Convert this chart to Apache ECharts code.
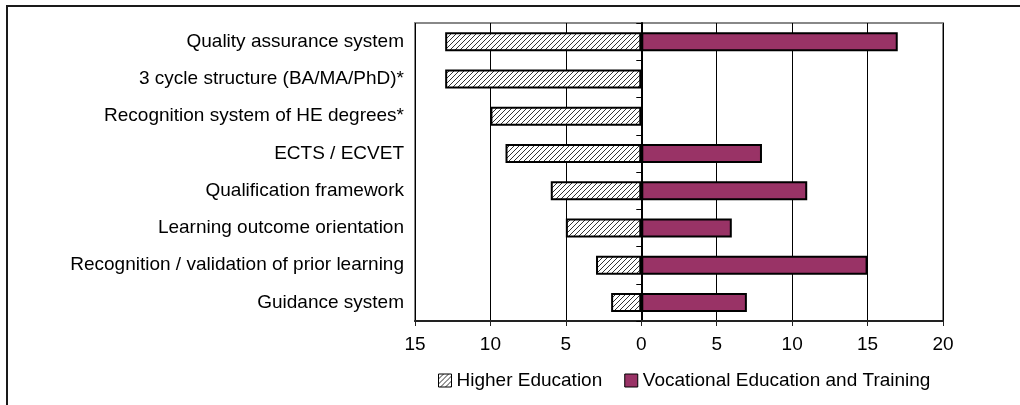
<!doctype html>
<html lang="en">
<head>
	<meta charset="UTF-8">
	<title>HE vs VET</title>
	<style>
		html, body { margin: 0; padding: 0; background: #fff; }
		#main { width: 1020px; height: 405px; }
	</style>
</head>
<body>
<div id="main"></div>
<script src="https://cdn.jsdelivr.net/npm/echarts@6/dist/echarts.min.js"></script>
<script type="text/javascript">
	// categories, top to bottom as in the picture
	var categories = [
		'Quality assurance system',
		'3 cycle structure (BA/MA/PhD)*',
		'Recognition system of HE degrees*',
		'ECTS / ECVET',
		'Qualification framework',
		'Learning outcome orientation',
		'Recognition / validation of prior learning',
		'Guidance system'
	];
	var higherEdu = [13, 13, 10, 9, 6, 5, 3, 2];
	var vet = [17, 0, 0, 8, 11, 6, 15, 7];
	var xTicks = [-15, -10, -5, 0, 5, 10, 15, 20];

	// category axis runs bottom-up, so reverse
	var cats = categories.slice().reverse();
	var heVals = higherEdu.slice().reverse().map(function (v) { return -v; });
	var vetVals = vet.slice().reverse().map(function (v) { return v === 0 ? null : v; });

	// hatch pattern for the HE bars
	var hatch = document.createElement('canvas');
	hatch.width = 5;
	hatch.height = 5;
	var hc = hatch.getContext('2d');
	hc.fillStyle = '#fff';
	hc.fillRect(0, 0, 5, 5);
	hc.strokeStyle = '#000';
	hc.lineWidth = 0.8;
	hc.beginPath();
	hc.moveTo(-1, 6); hc.lineTo(6, -1);
	hc.moveTo(-1, 1); hc.lineTo(1, -1);
	hc.moveTo(4, 6); hc.lineTo(6, 4);
	hc.stroke();

	var myChart = echarts.init(document.getElementById('main'));

	var font = 'Liberation Sans, Arial, sans-serif';
	var fs = 19;

	var option = {
		backgroundColor: '#fff',
		animation: false,
		textStyle: { fontFamily: font },
		grid: {
			left: 415,
			right: 77,
			top: 23,
			bottom: 84,
			show: true,
			borderColor: '#888',
			borderWidth: 2,
			backgroundColor: 'transparent'
		},
		graphic: [
			{ type: 'line', shape: { x1: 7, y1: 6, x2: 7, y2: 405 }, style: { stroke: '#1a1a1a', lineWidth: 2 } },
			{ type: 'line', shape: { x1: 6, y1: 6, x2: 1020, y2: 6 }, style: { stroke: '#1a1a1a', lineWidth: 2 } }
		],
		legend: {
			top: 366,
			left: 433,
			icon: 'rect',
			itemWidth: 13,
			itemHeight: 13,
			itemGap: 22,
			textStyle: { fontSize: fs, color: '#000', fontFamily: font },
			itemStyle: { borderWidth: 1, borderColor: '#000' },
			data: ['Higher Education', 'Vocational Education and Training']
		},
		xAxis: {
			type: 'value',
			min: xTicks[0],
			max: xTicks[xTicks.length - 1],
			interval: 5,
			axisLine: { show: true, onZero: false, lineStyle: { color: '#222', width: 2 } },
			axisTick: { show: true, length: 5, lineStyle: { color: '#222', width: 1 } },
			axisLabel: {
				fontSize: fs,
				color: '#000',
				margin: 14,
				formatter: function (v) { return Math.abs(v); }
			},
			splitLine: { show: true, lineStyle: { color: '#000', width: 1 } }
		},
		yAxis: [
			{
				type: 'category',
				data: cats,
				axisLine: { show: false, onZero: false },
				axisTick: { show: false },
				axisLabel: { fontSize: fs, color: '#000', margin: 11 }
			},
			{
				type: 'category',
				data: cats,
				position: 'left',
				axisLine: { show: true, onZero: true, lineStyle: { color: '#000', width: 2 } },
				axisTick: { show: true, length: 5, lineStyle: { color: '#000', width: 1 } },
				axisLabel: { show: false }
			}
		],
		series: [
			{
				name: 'Higher Education',
				type: 'bar',
				stack: 'all',
				barWidth: 19,
				data: heVals,
				itemStyle: {
					color: { image: hatch, repeat: 'repeat' },
					borderColor: '#000',
					borderWidth: 2
				}
			},
			{
				name: 'Vocational Education and Training',
				type: 'bar',
				stack: 'all',
				barWidth: 19,
				data: vetVals,
				itemStyle: {
					color: '#993366',
					borderColor: '#000',
					borderWidth: 2
				}
			}
		]
	};

	myChart.setOption(option);
</script>
</body>
</html>
